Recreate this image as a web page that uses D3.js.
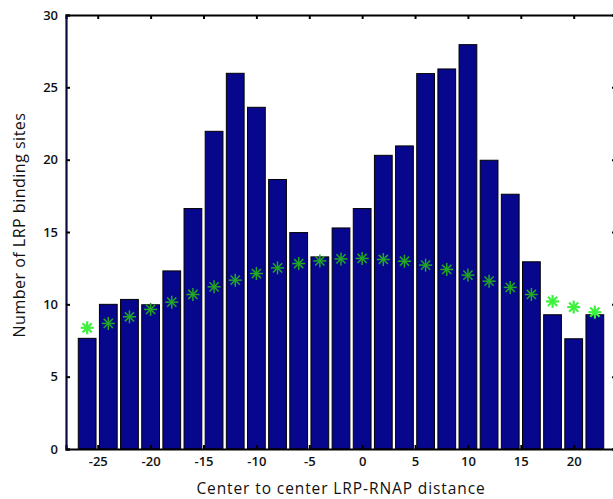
<!DOCTYPE html>
<html><head><meta charset="utf-8">
<script src="https://cdn.jsdelivr.net/npm/d3@7"></script>
<style>html,body{margin:0;padding:0;background:#fff;}svg{display:block;}</style>
</head><body>
<script>
const distances = [-26,-24,-22,-20,-18,-16,-14,-12,-10,-8,-6,-4,-2,0,2,4,6,8,10,12,14,16,18,20,22];
const bindingSites = [7.65,10.0,10.34,9.97,12.31,16.62,21.96,25.97,23.62,18.63,14.96,13.28,15.28,16.62,20.3,20.95,25.95,26.27,27.95,19.96,17.61,12.94,9.28,7.62,9.28];
const expected = [8.38,8.68,9.14,9.65,10.15,10.68,11.21,11.67,12.13,12.52,12.82,13.0,13.14,13.17,13.1,12.98,12.71,12.41,12.02,11.6,11.17,10.68,10.2,9.81,9.46];
const xTicks = [-25,-20,-15,-10,-5,0,5,10,15,20];
const yTicks = [0,5,10,15,20,25,30];

const W = 613, H = 499;
const m = {left:66, top:15, right:616, bottom:449};
const svg = d3.select("body").append("svg").attr("width",W).attr("height",H);
svg.append("rect").attr("width",W).attr("height",H).attr("fill","#fff");

const x = d3.scaleLinear().domain([-28,24]).range([m.left,m.right]);
const y = d3.scaleLinear().domain([0,30]).range([m.bottom,m.top]);
const bw = (x(2)-x(0))*0.84;

// bars
svg.append("g").selectAll("rect").data(distances).join("rect")
  .attr("x",(d)=>x(d)-bw/2)
  .attr("y",(d,i)=>y(bindingSites[i]))
  .attr("width",bw)
  .attr("height",(d,i)=>y(0)-y(bindingSites[i]))
  .attr("fill","#07078e").attr("stroke","#000").attr("stroke-width",1);

// axes box
const tl = 4;
const font = "'Open Sans', 'DejaVu Sans', sans-serif";
const fmt = d => String(d);
const axB = svg.append("g").attr("transform",`translate(0,${m.bottom})`)
  .call(d3.axisBottom(x).tickValues(xTicks).tickSize(-tl).tickPadding(8).tickFormat(fmt));
const axT = svg.append("g").attr("transform",`translate(0,${m.top})`)
  .call(d3.axisTop(x).tickValues(xTicks).tickSize(-tl).tickFormat(""));
const axL = svg.append("g").attr("transform",`translate(${m.left},0)`)
  .call(d3.axisLeft(y).tickValues(yTicks).tickSize(-tl).tickPadding(8).tickFormat(fmt));
const axR = svg.append("g").attr("transform",`translate(${m.right},0)`)
  .call(d3.axisRight(y).tickValues(yTicks).tickSize(-tl).tickFormat(""));
[axB,axT,axL,axR].forEach(g=>{
  g.select(".domain").attr("stroke","#000").attr("stroke-width",2.2);
  g.selectAll(".tick line").attr("stroke","#000").attr("stroke-width",2);
  g.selectAll(".tick text").attr("fill","#111").style("font-family",font).style("font-size","13px").style("font-weight","600");
});
axL.select(".domain").attr("stroke","#0a0a40");

// stars
const r = 6.5;
const angles = [0,45,90,135];
const sg = svg.append("g").selectAll("g").data(distances).join("g")
  .attr("transform",(d,i)=>`translate(${x(d)},${y(expected[i])})`);
sg.each(function(d,i){
  const inside = expected[i] < bindingSites[i];
  const col = inside ? "#22a822" : "#3df23d";
  const g = d3.select(this);
  angles.forEach(a=>{
    const rad = a*Math.PI/180;
    g.append("line")
      .attr("x1",-r*Math.cos(rad)).attr("y1",-r*Math.sin(rad))
      .attr("x2",r*Math.cos(rad)).attr("y2",r*Math.sin(rad))
      .attr("stroke",col).attr("stroke-width",inside?1.5:2.2);
  });
});

// labels
svg.append("text").attr("x",(m.left+m.right)/2).attr("y",494).attr("text-anchor","middle")
  .style("font-family",font).style("font-size","15.5px").style("letter-spacing","0.9px").attr("fill","#111")
  .text("Center to center LRP-RNAP distance");
svg.append("text").attr("transform",`translate(25,${(m.top+m.bottom)/2 - 7}) rotate(-90)`).attr("text-anchor","middle")
  .style("font-family",font).style("font-size","16px").style("letter-spacing","0.5px").attr("fill","#111")
  .text("Number of LRP binding sites");
</script>
</body></html>
